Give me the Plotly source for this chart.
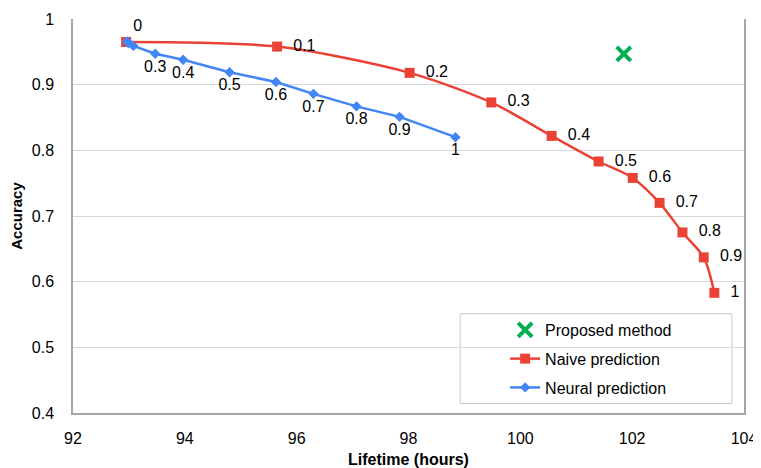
import plotly.graph_objects as go

# ---- data ----
naive_x = [92.95, 95.65, 98.02, 99.48, 100.56, 101.40, 102.01, 102.49, 102.90, 103.28, 103.47]
naive_y = [0.965, 0.958, 0.918, 0.873, 0.822, 0.783, 0.758, 0.720, 0.675, 0.637, 0.583]
naive_labels = ["0", "0.1", "0.2", "0.3", "0.4", "0.5", "0.6", "0.7", "0.8", "0.9", "1"]

neural_x = [92.97, 92.99, 93.08, 93.47, 93.97, 94.80, 95.63, 96.30, 97.07, 97.84, 98.84]
neural_y = [0.966, 0.963, 0.959, 0.947, 0.938, 0.919, 0.904, 0.886, 0.867, 0.851, 0.820]
neural_labels = ["", "", "", "0.3", "0.4", "0.5", "0.6", "0.7", "0.8", "0.9", "1"]

proposed_x = [101.85]
proposed_y = [0.947]

x_ticks = [92, 94, 96, 98, 100, 102, 104]
y_ticks = [0.4, 0.5, 0.6, 0.7, 0.8, 0.9, 1.0]
y_tick_text = ["0.4", "0.5", "0.6", "0.7", "0.8", "0.9", "1"]

RED = "#EA4335"
BLUE = "#4285F4"
GREEN = "#00B050"
FONT = "Liberation Sans, Arial, sans-serif"

fig = go.Figure()

naive_pos = ["top right"] + ["middle right"] * (len(naive_x) - 1)
naive_text = [naive_labels[0]] + ["  " + t for t in naive_labels[1:]]
fig.add_trace(go.Scatter(
    x=naive_x, y=naive_y, mode="lines+markers+text", name="Naive prediction",
    text=naive_text, textposition=naive_pos,
    textfont=dict(size=16, color="#000000", family=FONT),
    line=dict(color=RED, width=2.5, shape="spline", smoothing=0.8),
    marker=dict(symbol="square", size=10, color=RED),
    legendgroup="b", legendrank=2,
))

fig.add_trace(go.Scatter(
    x=neural_x, y=neural_y, mode="lines+markers+text", name="Neural prediction",
    text=neural_labels, textposition="bottom center",
    textfont=dict(size=16, color="#000000", family=FONT),
    line=dict(color=BLUE, width=2.5),
    marker=dict(symbol="diamond", size=8, color=BLUE),
    legendgroup="c", legendrank=3,
))

fig.add_trace(go.Scatter(
    x=proposed_x, y=proposed_y, mode="markers", name="Proposed method",
    marker=dict(symbol="x-thin", size=14, color=GREEN, line=dict(width=4, color=GREEN)),
    legendgroup="a", legendrank=1,
))

# legend frame
fig.add_shape(type="rect", xref="paper", yref="paper",
              x0=0.577, x1=0.982, y0=0.024, y1=0.252,
              line=dict(color="#c8c8c8", width=1), fillcolor="white", layer="below")

# page body has an 8px margin, so the figure is sized to the visible area
fig.update_layout(
    width=753, height=460,
    margin=dict(l=65, r=17, t=11, b=55),
    paper_bgcolor="white", plot_bgcolor="rgba(0,0,0,0)",
    font=dict(family=FONT, size=16, color="#000000"),
    showlegend=True,
    legend=dict(x=0.644, y=0.254, xanchor="left", yanchor="top",
                bgcolor="rgba(0,0,0,0)", borderwidth=0,
                font=dict(size=16, family=FONT), tracegroupgap=5,
                traceorder="grouped"),
    xaxis=dict(range=[92, 104], tickvals=x_ticks, showgrid=False, zeroline=False,
               showline=True, linecolor="#a6a6a6", linewidth=1.5,
               ticks="", ticklabelstandoff=10, automargin=False,
               tickfont=dict(size=16),
               title=dict(text="<b>Lifetime (hours)</b>", font=dict(size=16), standoff=8)),
    yaxis=dict(range=[0.4, 1.0], tickvals=y_ticks, ticktext=y_tick_text,
               showgrid=True, gridcolor="#d9d9d9", gridwidth=1, zeroline=False,
               showline=True, linecolor="#a6a6a6", linewidth=1.5, mirror=True,
               ticks="", ticklabelstandoff=14, automargin=False,
               tickfont=dict(size=16),
               title=dict(text="<b>Accuracy</b>", font=dict(size=15), standoff=8)),
)

fig.write_html("out.html")
